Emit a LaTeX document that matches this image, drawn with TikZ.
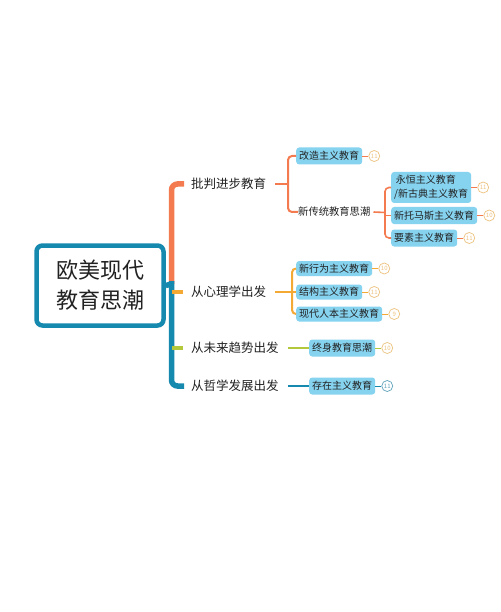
\documentclass[tikz,border=0pt]{standalone}
\usepackage{fontspec}
\setmainfont{Noto Sans CJK SC}
\usetikzlibrary{positioning}
\definecolor{corange}{HTML}{F47B4F}
\definecolor{cteal}{HTML}{1689AE}
\definecolor{cyel}{HTML}{F5A935}
\definecolor{cgreen}{HTML}{B4C83C}
\definecolor{cbox}{HTML}{86D3F0}
\definecolor{cbadge}{HTML}{EDC27E}
\definecolor{ctealb}{HTML}{5FA3BC}
\definecolor{ctext}{HTML}{222222}
\tikzset{
  leaf/.style={fill=cbox, rounded corners=3pt, inner xsep=3pt, inner ysep=0pt, minimum height=17pt, anchor=west, font=\fontsize{10}{12}\selectfont, text=ctext},
  lvlone/.style={anchor=west, inner sep=0pt, font=\fontsize{12.5}{14}\selectfont, text=ctext},
  plain/.style={anchor=west, inner sep=0pt, font=\fontsize{10.3}{12}\selectfont, text=ctext},
  bdg/.style={circle, draw=#1, line width=0.7pt, minimum size=11pt, inner sep=0pt, font=\fontsize{6}{6}\selectfont, text=#1},
}
\begin{document}
\begin{tikzpicture}[x=1pt,y=-1pt]
\useasboundingbox[fill=white] (0,0) rectangle (500,612);

% central node
\node[draw=cteal, line width=4.5pt, rounded corners=6pt, fill=white, minimum width=127pt, minimum height=80pt, align=center, font=\fontsize{22}{30}\selectfont, text=ctext] (c) at (100,285.5) {欧美现代\\教育思潮};

% level-1 labels
\node[lvlone] (b1) at (191,184) {批判进步教育};
\node[lvlone] (b2) at (191,292) {从心理学出发};
\node[lvlone] (b3) at (191,348) {从未来趋势出发};
\node[lvlone] (b4) at (191,386) {从哲学发展出发};

% main bracket
\draw[corange, line width=5.5pt, rounded corners=6pt] ([xshift=-7pt]b1.west) -- (171.5,184) -- (171.5,284);
\draw[cteal, line width=5.5pt, rounded corners=6pt] (171.5,281) -- (171.5,386) -- ([xshift=-7pt]b4.west);
\draw[cteal, line width=5.5pt] (c.east) -- (171.5,284);
\draw[cyel, line width=4pt] (171.5,292) -- ([xshift=-8pt]b2.west);
\draw[cgreen, line width=4pt] (171.5,348) -- ([xshift=-8pt]b3.west);

% branch 1 leaves
\node[leaf] (a1) at (296,156) {改造主义教育};
\node[plain] (a2) at (298,212) {新传统教育思潮};
\node[leaf, align=left, minimum height=31pt, inner ysep=1pt, font=\fontsize{10}{14}\selectfont] (a21) at (391,187.5) {\,永恒主义教育\\/新古典主义教育};
\node[leaf] (a22) at (391,215.5) {新托马斯主义教育};
\node[leaf] (a23) at (391,238) {要素主义教育};

\draw[corange, line width=2.3pt] ([xshift=9pt]b1.east) -- (288,184);
\draw[corange, line width=2pt, rounded corners=4pt] (a1.west) -- (288,156) -- (288,212) -- (a2.west);
\draw[corange, line width=1.6pt] ([xshift=3pt]a2.east) -- (385,212.5);
\draw[corange, line width=1.6pt, rounded corners=4pt] (a21.west) -- (385,187.5) -- (385,238) -- (a23.west);
\draw[corange, line width=1.6pt] (385,215.5) -- (a22.west);

\node[bdg=cbadge, right=6pt of a1] (n1) {11};
\node[bdg=cbadge, right=6pt of a21] (n21) {11};
\node[bdg=cbadge, right=6pt of a22] (n22) {10};
\node[bdg=cbadge, right=6pt of a23] (n23) {11};
\foreach \s/\t in {a1/n1, a21/n21, a22/n22, a23/n23}
  \draw[corange, line width=0.9pt] (\s.east) -- (\t.west);

% branch 2 leaves
\node[leaf, minimum height=15pt] (p1) at (296,268.5) {新行为主义教育};
\node[leaf, minimum height=15pt] (p2) at (296,292) {结构主义教育};
\node[leaf, minimum height=15pt] (p3) at (296,314) {现代人本主义教育};
\draw[cyel, line width=2.3pt] ([xshift=9pt]b2.east) -- (292,292);
\draw[cyel, line width=2pt, rounded corners=4pt] (p1.west) -- (292,268.5) -- (292,314) -- (p3.west);
\draw[cyel, line width=2pt] (292,292) -- (p2.west);
\node[bdg=cbadge, right=6pt of p1] (m1) {10};
\node[bdg=cbadge, right=6pt of p2] (m2) {11};
\node[bdg=cbadge, right=6pt of p3] (m3) {9};
\foreach \s/\t in {p1/m1, p2/m2, p3/m3}
  \draw[cyel, line width=0.9pt] (\s.east) -- (\t.west);

% branch 3
\node[leaf] (f1) at (309,348) {终身教育思潮};
\draw[cgreen, line width=2.8pt] ([xshift=9pt]b3.east) -- (f1.west);
\node[bdg=cbadge, right=6pt of f1] (g1) {10};
\draw[cgreen, line width=0.9pt] (f1.east) -- (g1.west);

% branch 4
\node[leaf] (e1) at (309,386) {存在主义教育};
\draw[cteal, line width=2.8pt] ([xshift=9pt]b4.east) -- (e1.west);
\node[bdg=ctealb, right=6pt of e1] (h1) {11};
\draw[cteal, line width=0.9pt] (e1.east) -- (h1.west);
\end{tikzpicture}
\end{document}
